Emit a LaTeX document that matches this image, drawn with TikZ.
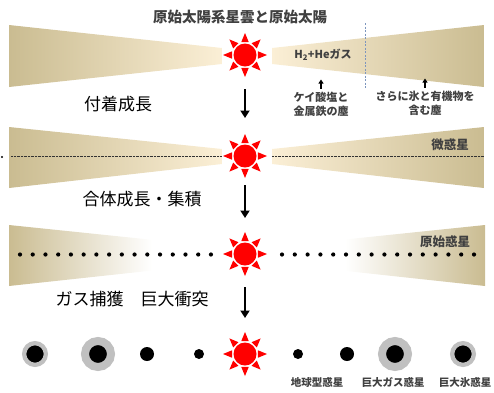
\documentclass[tikz,border=0pt]{standalone}
\usepackage{fontspec}
\setmainfont{Noto Sans CJK JP}
\usetikzlibrary{arrows.meta,calc}

\definecolor{diskdark}{RGB}{202,188,145}
\definecolor{disklight}{RGB}{251,239,214}
\definecolor{labelgray}{RGB}{64,64,64}
\definecolor{ringgray}{RGB}{192,192,192}
\definecolor{sunred}{RGB}{255,0,0}
\definecolor{guideblue}{RGB}{125,150,190}
\definecolor{dustline}{RGB}{50,50,50}

% eight triangular rays around a sun node
\newcommand\sunrays[1]{%
  \foreach \a in {0,45,...,315}
    \fill[sunred] ($(#1)+(\a:22pt)$) -- ($(#1)+(\a+16:13.5pt)$) -- ($(#1)+(\a-16:13.5pt)$) -- cycle;
}

\begin{document}
\begin{tikzpicture}[x=1pt,y=-1pt,
  sun/.style={circle,fill=sunred,inner sep=0pt,outer sep=0pt,minimum size=23pt},
  stage/.style={font=\fontsize{17}{19}\selectfont,text=black,inner sep=1pt},
  heading/.style={font=\bfseries\fontsize{14.5}{16}\selectfont,text=labelgray,inner sep=1pt},
  tag/.style={font=\bfseries\fontsize{11}{14}\selectfont,text=labelgray,align=center,inner sep=1pt},
  bigtag/.style={font=\bfseries\fontsize{12.5}{14}\selectfont,text=labelgray,inner sep=1pt},
  smalltag/.style={font=\bfseries\fontsize{10.5}{12}\selectfont,text=labelgray,inner sep=1pt},
  flow/.style={line width=2pt,-{Triangle[width=9pt,length=7.5pt]}},
  pointer/.style={line width=1.2pt,-{Triangle[width=5pt,length=4pt]}},
  planet/.style={circle,fill=black,inner sep=0pt,outer sep=0pt},
  ringed/.style={planet,draw=ringgray},
  dustbelt/.style={dustline,line width=1.7pt,dash pattern=on 0.9pt off 0.5pt},
]
\useasboundingbox (0,0) rectangle (494,392);

% ---------- stage 1: nebula disk and protosun ----------
\begin{scope}
  \clip (9,25) -- (222,48) -- (222,64) -- (9,87) -- cycle;
  \shade[left color=diskdark,right color=disklight] (9,20) rectangle (222,92);
\end{scope}
\begin{scope}
  \clip (272,48) -- (484,25) -- (484,87) -- (272,64) -- cycle;
  \shade[left color=disklight,right color=diskdark] (272,20) rectangle (484,92);
\end{scope}
\draw[guideblue,line width=0.6pt,dash pattern=on 2pt off 1.5pt] (365,23) -- (365,88);

\node[heading] (title) at (240,17) {原始太陽系星雲と原始太陽};
\node[sun] (s1) at (245,55) {};
\sunrays{s1}
\node[tag] (gas) at (323,55) {H\textsubscript{2}+Heガス};
\node[tag] (dust1) at (321,104) {ケイ酸塩と\\金属鉄の塵};
\node[tag] (dust2) at (425,103) {さらに氷と有機物を\\含む塵};
\draw[pointer] ([yshift=2pt]dust1.north) -- ++(0,-9);
\draw[pointer] ([yshift=2pt]dust2.north) -- ++(0,-9);
\node[stage] (st1) at (118,104) {付着成長};

% ---------- stage 2: planetesimals ----------
\begin{scope}
  \clip (9,127) -- (222,149) -- (222,164) -- (9,188) -- cycle;
  \shade[left color=diskdark,right color=disklight] (9,120) rectangle (222,195);
\end{scope}
\begin{scope}
  \clip (272,149) -- (484,127) -- (484,188) -- (272,164) -- cycle;
  \shade[left color=disklight,right color=diskdark] (272,120) rectangle (484,195);
\end{scope}
\node[sun] (s2) at (245,156) {};
\sunrays{s2}
\draw[dustbelt] (11,156.5) -- (222,156.5);
\draw[dustbelt] (272,156.5) -- (484,156.5);
\node[circle,fill=black,inner sep=0pt,minimum size=2.4pt] (stray) at (2,157) {};
\node[bigtag] (pl1) at (450,145) {微惑星};
\node[stage] (st2) at (142,199) {合体成長・集積};

% ---------- stage 3: protoplanets ----------
\begin{scope}
  \clip (9,225) -- (222,247) -- (222,263) -- (9,286) -- cycle;
  \shade[left color=diskdark,right color=white] (9,220) rectangle (152,290);
\end{scope}
\begin{scope}
  \clip (272,247) -- (485,225) -- (485,286) -- (272,263) -- cycle;
  \shade[left color=white,right color=diskdark] (345,220) rectangle (485,290);
\end{scope}
\node[sun] (s3) at (245,254) {};
\sunrays{s3}
\foreach \i in {0,...,15} {
  \fill (20+\i*12.73,254.5) circle (2.1);
  \fill (282+\i*12.8,254.5) circle (2.1);
}
\node[bigtag] (pl2) at (445,242) {原始惑星};
\node[stage] (st3) at (132,299) {ガス捕獲　巨大衝突};

% ---------- stage 4: planetary system ----------
\node[sun] (s4) at (245,354) {};
\sunrays{s4}
\node[ringed,line width=4.3pt,minimum size=21.7pt] (p1) at (35,354) {};
\node[ringed,line width=8pt,minimum size=26pt] (p2) at (98,354) {};
\node[planet,minimum size=14pt] (p3) at (147,354) {};
\node[planet,minimum size=10pt] (p4) at (199,354) {};
\node[planet,minimum size=10pt] (p5) at (298,354) {};
\node[planet,minimum size=14pt] (p6) at (347,354) {};
\node[ringed,line width=8pt,minimum size=26pt] (p7) at (395,354) {};
\node[ringed,line width=4.3pt,minimum size=21.7pt] (p8) at (463,354) {};
\node[smalltag] (terr) at (317,382) {地球型惑星};
\node[smalltag] (gasg) at (393,382) {巨大ガス惑星};
\node[smalltag] (iceg) at (465,382) {巨大氷惑星};

% ---------- evolution arrows ----------
\draw[flow,shorten <=22.5pt,shorten >=26.5pt] (s1) -- (s2);
\draw[flow,shorten <=17.5pt,shorten >=24.5pt] (s2) -- (s3);
\draw[flow,shorten <=21.5pt,shorten >=24.5pt] (s3) -- (s4);
\end{tikzpicture}
\end{document}
